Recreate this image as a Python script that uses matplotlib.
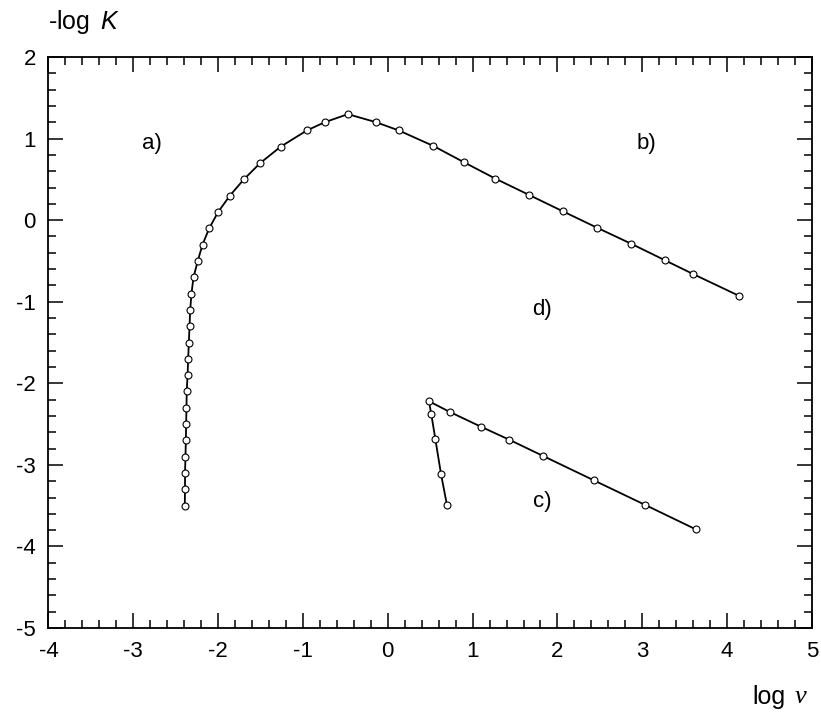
import matplotlib.pyplot as plt
from matplotlib.ticker import MultipleLocator

plt.rcParams["font.family"] = ["Liberation Sans", "DejaVu Sans"]
plt.rcParams["mathtext.fontset"] = "custom"
plt.rcParams["mathtext.rm"] = "Liberation Sans"
plt.rcParams["mathtext.it"] = "Liberation Sans:italic"
plt.rcParams["axes.unicode_minus"] = False

# branch a) -> b): from bottom of the a) leg, over the peak, down to b)
ab_x = [-2.393, -2.39, -2.39, -2.385, -2.38, -2.377, -2.373, -2.37, -2.36,
        -2.353, -2.345, -2.337, -2.329, -2.314, -2.29, -2.24, -2.184, -2.105,
        -2.0, -1.862, -1.697, -1.504, -1.264, -0.954, -0.745, -0.47, -0.136,
        0.13, 0.537, 0.898, 1.267, 1.664, 2.061, 2.462, 2.871, 3.264, 3.598,
        4.145]
ab_y = [-3.5, -3.3, -3.1, -2.9, -2.7, -2.5, -2.3, -2.1, -1.9, -1.7, -1.5,
        -1.3, -1.1, -0.9, -0.7, -0.5, -0.3, -0.1, 0.1, 0.3, 0.5, 0.7, 0.9,
        1.1, 1.2, 1.3, 1.2, 1.1, 0.91, 0.71, 0.51, 0.31, 0.11, -0.09, -0.29,
        -0.49, -0.66, -0.93]

# branch c)
c_x = [0.697, 0.627, 0.56, 0.513, 0.485, 0.729, 1.094, 1.429, 1.829, 2.43,
       3.032, 3.63]
c_y = [-3.49, -3.11, -2.68, -2.38, -2.22, -2.35, -2.53, -2.69, -2.89, -3.19,
       -3.49, -3.79]

region_labels = ["a)", "b)", "c)", "d)"]
region_x = [-2.78, 3.05, 1.82, 1.82]
region_y = [0.94, 0.94, -3.45, -1.10]

fig = plt.figure(figsize=(8.21, 7.13), dpi=100)
ax = fig.add_axes([0.059, 0.1192, 0.930, 0.8008])

for xs, ys in [(ab_x, ab_y), (c_x, c_y)]:
    ax.plot(xs, ys, color="black", linewidth=1.3, marker="o", markersize=5,
            markerfacecolor="white", markeredgecolor="black",
            markeredgewidth=0.8)

for lab, x, y in zip(region_labels, region_x, region_y):
    ax.text(x, y, lab, fontsize=16, ha="center", va="center")

ax.set_xlim(-4, 5)
ax.set_ylim(-5, 2)
ax.xaxis.set_major_locator(MultipleLocator(1))
ax.xaxis.set_minor_locator(MultipleLocator(0.2))
ax.yaxis.set_major_locator(MultipleLocator(1))
ax.yaxis.set_minor_locator(MultipleLocator(0.2))
ax.tick_params(which="both", direction="in", top=True, right=True,
               width=1.1, labelsize=16)
ax.tick_params(which="major", length=11)
ax.tick_params(which="minor", length=6)
ax.tick_params(axis="x", which="major", pad=9)
ax.tick_params(axis="y", which="major", pad=9)
for sp in ax.spines.values():
    sp.set_linewidth(1.3)

fig.text(0.059, 0.969, "-log $\\,K$", fontsize=18, ha="left", va="center")
fig.text(0.957, 0.022, "log", fontsize=18, ha="right", va="center")
fig.text(0.968, 0.022, "ν", fontsize=19, ha="left", va="center",
         family="Liberation Serif", style="italic")

fig.savefig("out.png", dpi=100)
